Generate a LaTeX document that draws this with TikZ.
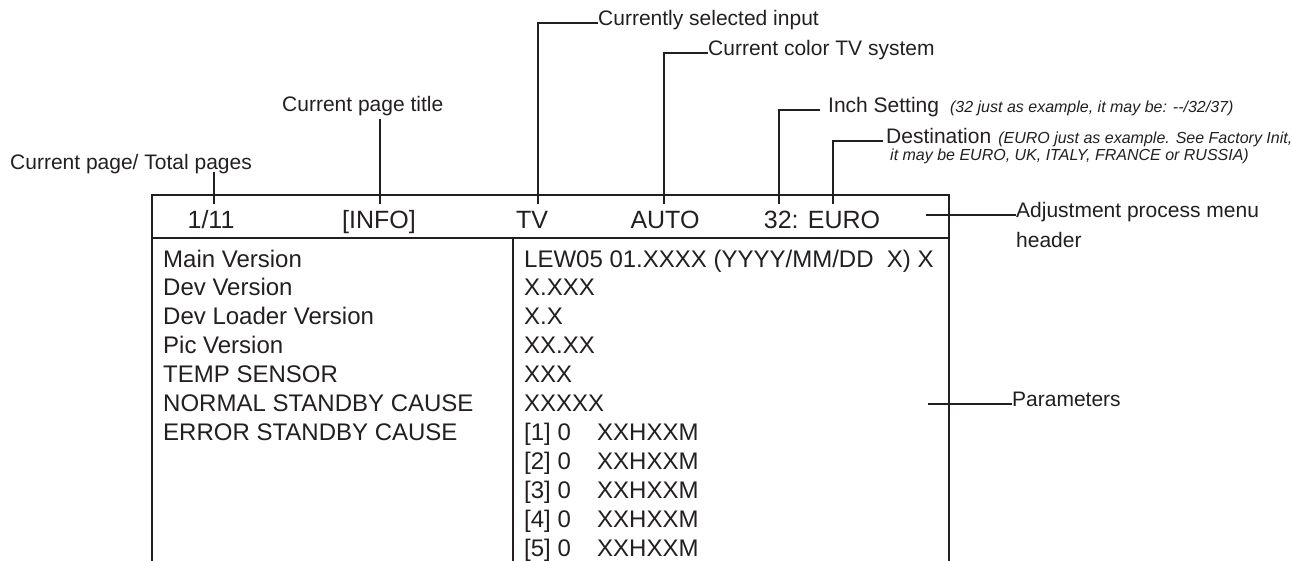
\documentclass[tikz,border=0pt]{standalone}
\usepackage{fontspec}
\setmainfont{Liberation Sans}
\usetikzlibrary{positioning}
\definecolor{ink}{HTML}{231F20}
\newcommand\notefont{\fontsize{16}{19}\selectfont\itshape}

\begin{document}
\begin{tikzpicture}[
  x=1pt, y=-1pt,
  hdr/.style  ={font=\fontsize{25}{30}\selectfont, text=ink, inner sep=0pt, anchor=base},
  row/.style  ={font=\fontsize{24}{28}\selectfont, text=ink, inner sep=0pt, anchor=base west},
  lab/.style  ={font=\fontsize{21}{25}\selectfont, text=ink, inner sep=0pt, text height=0.72em, text depth=0.21em},
  frame/.style={draw=ink, line width=1.8pt},
  lead/.style ={draw=ink, line width=1.6pt},
]
\useasboundingbox (0,0) rectangle (1293,560);
% menu frame
\draw[frame] (152,562) |- (949,195) -- (949,562);
\draw[frame, line width=1.3pt] (152,238) -- (949,238);
\draw[frame] (513,238) -- (513,562);
% header fields
\node[hdr] (pg)  at (211,228) {1/11};
\node[hdr] (ttl) at (379,228) {[INFO]};
\node[hdr] (src) at (532,228) {TV};
\node[hdr] (sys) at (665,228) {AUTO};
\node[hdr] (dst) at (822,228) {32: EURO};
% parameter rows
\foreach \txt [count=\i from 0] in {Main Version, Dev Version, Dev Loader Version, Pic Version,
    TEMP SENSOR, NORMAL STANDBY CAUSE, ERROR STANDBY CAUSE}
  \node[row] (name\i) at (163,{267+28.9*\i}) {\txt};
\foreach \txt [count=\i from 0] in {{LEW05 01.XXXX (YYYY/MM/DD\ \ X) X}, X.XXX, X.X, XX.XX, XXX, XXXXX}
  \node[row] (val\i) at (524,{267+28.9*\i}) {\txt};
\foreach \n in {1,...,5}
  \node[row] (err\n) at (524,{267+28.9*(\n+5)}) {\makebox[73pt][l]{[\n] 0}XXHXXM};
% tick points on the header
\coordinate (pgtick)   at (214,204);
\coordinate (ttltick)  at (380,204);
\coordinate (srctick)  at (538,204);
\coordinate (systick)  at (664,204);
\coordinate (inchtick) at (779,204);
\coordinate (dsttick)  at (833,204);
\coordinate (adjend)   at (926,215);
\coordinate (parend)   at (928,404);
% labels
\node[lab, anchor=south west] (pglab)  at (10,172)  {Current page/ Total pages};
\node[lab, anchor=south west] (ttllab) at (282,114) {Current page title};
\node[lab, anchor=west] (srclab)  at (598,22.7) {Currently selected input};
\node[lab, anchor=west] (syslab)  at (708,53)   {Current color TV system};
\node[lab, anchor=west] (inchlab) at (828,110)  {Inch Setting\hspace{11pt}{\notefont (32 just as example, it may be: -{}-/32/37)}};
\node[lab, anchor=west] (dstlab)  at (886,141)  {Destination\hspace{7pt}{\notefont (EURO just as example. See Factory Init,}};
\node[lab, anchor=base west] (dstlab2) at (890,160) {\notefont it may be EURO, UK, ITALY, FRANCE or RUSSIA)};
\node[lab, anchor=west] (adjlab)  at (1016,215) {Adjustment process menu};
\node[lab, anchor=base west] (adjlab2) at (1016,247) {header};
\node[lab, anchor=west] (parlab)  at (1012,404) {Parameters};
% leaders
\draw[lead] (pgtick) -- (pgtick |- pglab.south);
\draw[lead, shorten >=5pt] (ttltick) -- (ttltick |- ttllab.south);
\draw[lead] (srctick) |- (srclab.west);
\draw[lead] (systick) |- (syslab.west);
\draw[lead] (inchtick) |- ([xshift=-8pt]inchlab.west);
\draw[lead] (dsttick) |- ([xshift=-3pt]dstlab.west);
\draw[lead] (adjend) -- (adjlab.west);
\draw[lead] (parend) -- (parlab.west);
\end{tikzpicture}
\end{document}
